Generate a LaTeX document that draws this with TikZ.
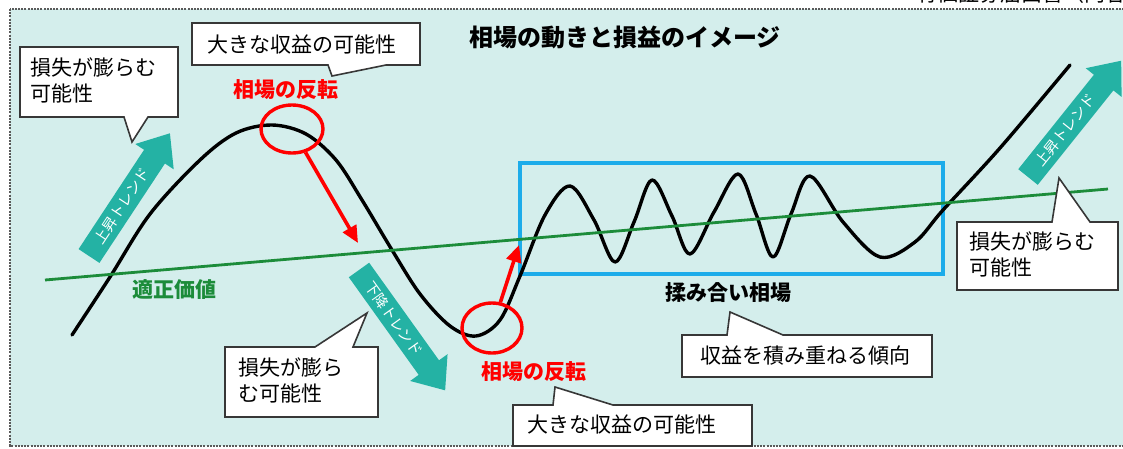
\documentclass[tikz,border=0pt]{standalone}
\usepackage{fontspec}
\setmainfont{Noto Sans CJK JP}
\usetikzlibrary{arrows.meta,shapes.geometric}
\definecolor{panelbg}{RGB}{212,238,236}
\definecolor{panelrule}{RGB}{90,90,90}
\definecolor{trendcol}{RGB}{36,178,164}
\definecolor{fairgreen}{RGB}{28,140,58}
\definecolor{rangeblue}{RGB}{28,172,234}
\definecolor{calloutrule}{RGB}{55,55,55}
\begin{document}
\begin{tikzpicture}[x=1pt,y=-1pt,
  callout/.style={fill=white,draw=calloutrule,line width=1.6pt,line join=miter},
  cotext/.style={font=\fontsize{21}{26}\selectfont,align=left,inner sep=0pt},
  boldlbl/.style={font=\bfseries\fontsize{21}{26}\selectfont,inner sep=0pt},
  redlbl/.style={boldlbl,text=red},
  trendtext/.style={text=white,font=\fontsize{14.5}{16}\selectfont,inner sep=0pt,transform shape},
  pricecurve/.style={line width=3.4pt,black,line cap=round,line join=round},
  redring/.style={ellipse,draw=red,line width=3.4pt,inner sep=0pt},
  redarrow/.style={red,line width=3.6pt,-{Triangle[length=17pt,width=15pt]}},
  fairline/.style={fairgreen,line width=2.8pt},
  rangebox/.style={draw=rangeblue,line width=4pt}
]
\useasboundingbox (0,0) rectangle (1123,448);
\begin{scope}
\clip (0,0) rectangle (1123,448);
\fill[white] (0,0) rectangle (1123,448);
% header text (mostly cut off)
\node[anchor=base west,font=\fontsize{21}{21}\selectfont,inner sep=0pt] (hdr) at (916,1.5) {有価証券届出書（内容};
% panel
\fill[panelbg] (10,9) rectangle (1130,446);
\draw[panelrule,line width=1.4pt,dash pattern=on 2pt off 1.2pt] (10,9) rectangle (1130,446);

% trading-range box
\draw[rangebox] (520,163) rectangle (943,274);

% price curve
\draw[pricecurve] plot[smooth,tension=0.55] coordinates {
 (72,335) (110,277) (150,214) (200,160) (236,133) (272,125) (306,134) (336,160)
 (362,200) (392,250) (420,294) (450,326) (476,336) (500,320) (520,276)
 (545,215) (570,186) (594,220) (615,262) (634,222) (652,180) (672,216) (690,254)
 (714,212) (738,174) (756,214) (773,257) (791,214) (810,176) (843,222) (880,257)
 (915,242) (943,210) (1000,148) (1070,65)};

% fair value line
\coordinate (gA) at (45,280);
\coordinate (gB) at (1108,189);
\draw[fairline] (gA) -- (gB);

% trend arrows
\begin{scope}[shift={(89,256)},rotate=56.6]
\fill[trendcol] (0,-12.5) -- (119,-12.5) -- (119,-23) -- (147,0) -- (119,23) -- (119,12.5) -- (0,12.5) -- cycle;
\node[trendtext] (upL) at (60,0) {上昇トレンド};
\end{scope}
\begin{scope}[shift={(359,270)},rotate=-54.4]
\fill[trendcol] (0,-12.5) -- (120,-12.5) -- (120,-23) -- (148,0) -- (120,23) -- (120,12.5) -- (0,12.5) -- cycle;
\node[trendtext] (down) at (60,0) {下降トレンド};
\end{scope}
\begin{scope}[shift={(1028,177)},rotate=51.3]
\fill[trendcol] (0,-12.5) -- (121,-12.5) -- (121,-23) -- (149,0) -- (121,23) -- (121,12.5) -- (0,12.5) -- cycle;
\node[trendtext] (upR) at (60,0) {上昇トレンド};
\end{scope}

% reversal rings and arrows
\node[redring,minimum width=62pt,minimum height=48pt] (r1) at (292,129) {};
\node[redring,minimum width=60pt,minimum height=50pt] (r2) at (492,328) {};
\coordinate (t1) at (358,243);
\coordinate (t2) at (519,245);
\draw[redarrow] (r1) -- (t1);
\draw[redarrow] (r2) -- (t2);

% labels
\node[font=\bfseries\fontsize{24}{26}\selectfont,inner sep=0pt] (title) at (625,37) {相場の動きと損益のイメージ};
\node[redlbl] (rev1) at (286,90) {相場の反転};
\node[redlbl] (rev2) at (534,372) {相場の反転};
\node[boldlbl,text=fairgreen] (fair) at (174,290) {適正価値};
\node[boldlbl] (range) at (728,293) {揉み合い相場};

% callouts
\draw[callout] (20,47) -- (178,47) -- (178,117) -- (148,117) -- (132,142) -- (124,117) -- (20,117) -- cycle;
\node[cotext,anchor=west] (c1) at (30,80) {損失が膨らむ\\可能性};

\draw[callout] (192,23) -- (420,23) -- (420,65) -- (386,65) -- (332,76) -- (328,65) -- (192,65) -- cycle;
\node[cotext] (c2) at (302,44) {大きな収益の可能性};

\draw[callout] (225,347) -- (315,347) -- (367,313) -- (353,347) -- (378,347) -- (378,417) -- (225,417) -- cycle;
\node[cotext,anchor=west] (c3) at (238,380) {損失が膨ら\\む可能性};

\draw[callout] (513,405) -- (553,405) -- (555,387) -- (613,405) -- (752,405) -- (752,446) -- (513,446) -- cycle;
\node[cotext] (c4) at (622,424) {大きな収益の可能性};

\draw[callout] (682,335) -- (727,335) -- (730,312) -- (783,335) -- (932,335) -- (932,377) -- (682,377) -- cycle;
\node[cotext] (c5) at (805,356) {収益を積み重ねる傾向};

\draw[callout] (957,222) -- (1052,222) -- (1059,178) -- (1090,222) -- (1118,222) -- (1118,290) -- (957,290) -- cycle;
\node[cotext,anchor=west] (c6) at (969,254) {損失が膨らむ\\可能性};
\end{scope}
\end{tikzpicture}
\end{document}
